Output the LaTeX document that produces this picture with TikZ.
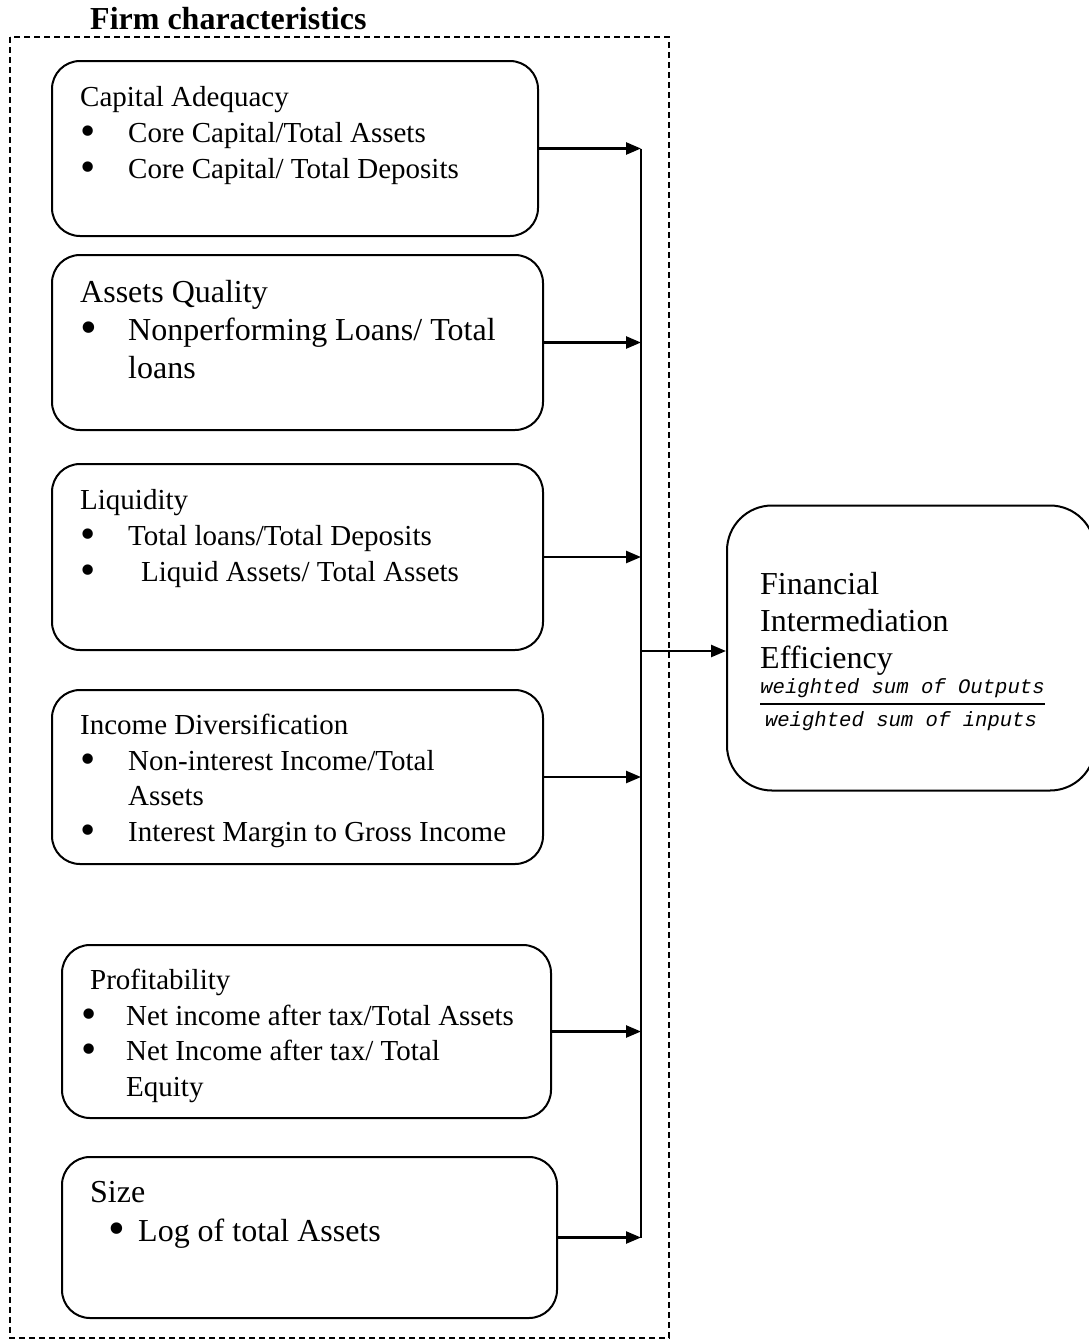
\documentclass[tikz,border=0pt]{standalone}
\usepackage{fontspec}
\setmainfont{Liberation Serif}
\newfontfamily\fracfont{Liberation Mono}
\usetikzlibrary{arrows.meta,positioning}
\newcommand{\bigdot}{\smash{\raisebox{-0.1em}{\scalebox{1.5}{\textbullet}}}}
\newcommand{\bitem}[3]{\hspace*{#1}\makebox[#2][l]{\bigdot}#3}
\begin{document}
\begin{tikzpicture}[x=1pt,y=-1pt]
        \useasboundingbox (0,0) rectangle (1089,1342);
        \draw [line width=1.5pt,dash pattern=on 6pt off 4pt] (10,37) rectangle (669,1338);
        \node [anchor=north west,inner sep=0,font=\fontsize{32}{38}\selectfont\bfseries] (title) at (90,7) {Firm characteristics};
        \begin{scope}[every node/.style={draw,line width=2pt,rounded corners=28pt,inner sep=0}]
            \node [minimum width=486pt,minimum height=175pt] (capital) at (295,148.5) {};
            \node [minimum width=491pt,minimum height=175pt] (assets) at (297.5,342.5) {};
            \node [minimum width=491pt,minimum height=186pt] (liquid) at (297.5,557) {};
            \node [minimum width=491pt,minimum height=174pt] (income) at (297.5,777) {};
            \node [minimum width=489pt,minimum height=173pt] (profit) at (306.5,1031.5) {};
            \node [minimum width=495pt,minimum height=161pt] (size) at (309.5,1237.5) {};
            \node [minimum width=368pt,minimum height=285pt,rounded corners=45pt] (fie) at (911,648) {};
        \end{scope}
        \begin{scope}[every node/.style={anchor=north west,inner sep=0,align=left,font=\fontsize{29}{36}\selectfont}]
            \node (capital text) at (80,86) {Capital Adequacy\\
                \bitem{0pt}{48pt}{Core Capital/Total Assets}\\
                \bitem{0pt}{48pt}{Core Capital/ Total Deposits}};
            \node [font=\fontsize{32}{38}\selectfont] (assets text) at (80,280) {Assets Quality\\
                \bitem{0pt}{48pt}{Nonperforming Loans/ Total}\\
                \hspace*{48pt}loans};
            \node (liquid text) at (80,489) {Liquidity\\
                \bitem{0pt}{48pt}{Total loans/Total Deposits}\\
                \bitem{0pt}{61pt}{Liquid Assets/ Total Assets}};
            \node [font=\fontsize{29}{35.5}\selectfont] (income text) at (80,714) {Income Diversification\\
                \bitem{0pt}{48pt}{Non-interest Income/Total}\\
                \hspace*{48pt}Assets\\
                \bitem{0pt}{48pt}{Interest Margin to Gross Income}};
            \node [font=\fontsize{29}{35.5}\selectfont] (profit text) at (90,969) {Profitability\\
                \bitem{-9pt}{45pt}{Net income after tax/Total Assets}\\
                \bitem{-9pt}{45pt}{Net Income after tax/ Total}\\
                \hspace*{36pt}Equity};
            \node [font=\fontsize{32}{39}\selectfont] (size text) at (90,1181) {Size\\
                \bitem{18pt}{30pt}{Log of total Assets}};
            \node [font=\fontsize{32}{37}\selectfont] (fie text) at (760,572) {Financial\\
                Intermediation\\
                Efficiency};
        \end{scope}
        \begin{scope}[every node/.style={inner sep=0,font=\fontsize{20.6}{24}\fracfont\itshape}]
            \node (num) at (902.5,688) {weighted sum of Outputs};
            \node (den) at (901,721) {weighted sum of inputs};
        \end{scope}
        \draw [line width=1.8pt] ([yshift=-6pt]num.south west) -- ([yshift=-6pt]num.south east);
        \coordinate (bus) at (641,0);
        \begin{scope}[line width=2.5pt,-{Triangle[length=15pt,width=12pt]}]
            \foreach \n in {capital,assets,liquid,income,profit,size}
                \draw (\n.east) -- (\n.east -| bus);
            \draw (bus |- fie.west) ++(0,3) -- ([yshift=-3pt]fie.west);
        \end{scope}
        \draw [line width=2pt] (capital.east -| bus) -- (size.east -| bus);
    \end{tikzpicture}
\end{document}
